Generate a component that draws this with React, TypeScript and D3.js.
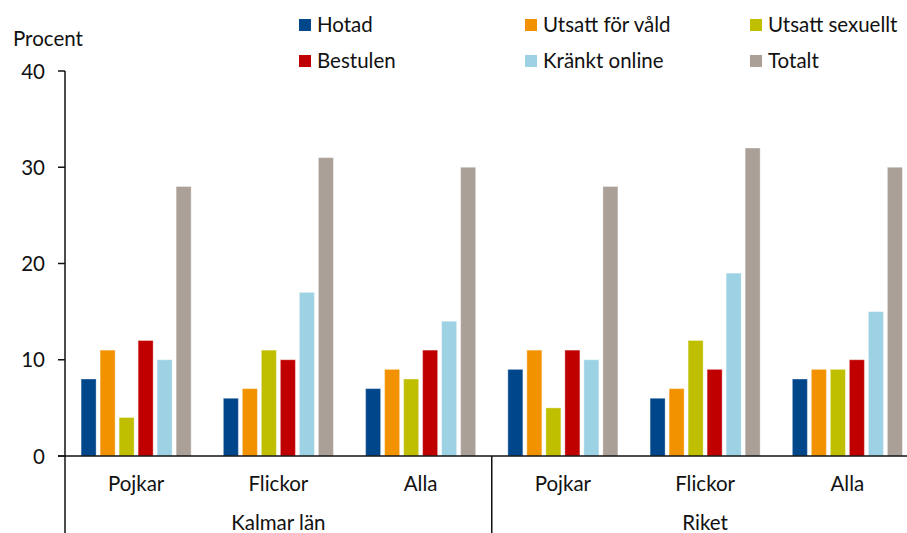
import React from "react";
import * as d3 from "d3";

const series = ["Hotad", "Utsatt för våld", "Utsatt sexuellt", "Bestulen", "Kränkt online", "Totalt"];
const colors = ["#00468B", "#F39200", "#BFBF00", "#C00000", "#9DD1E4", "#ABA097"];
const regions = ["Kalmar län", "Riket"];
const subgroups = ["Pojkar", "Flickor", "Alla"];
const groupKeys = ["Kalmar-Pojkar", "Kalmar-Flickor", "Kalmar-Alla", "Riket-Pojkar", "Riket-Flickor", "Riket-Alla"];
const kalmarPojkar = [8, 11, 4, 12, 10, 28];
const kalmarFlickor = [6, 7, 11, 10, 17, 31];
const kalmarAlla = [7, 9, 8, 11, 14, 30];
const riketPojkar = [9, 11, 5, 11, 10, 28];
const riketFlickor = [6, 7, 12, 9, 19, 32];
const riketAlla = [8, 9, 9, 10, 15, 30];
const values = [kalmarPojkar, kalmarFlickor, kalmarAlla, riketPojkar, riketFlickor, riketAlla];
const yTicks = [0, 10, 20, 30, 40];

const W = 907, H = 533;
const left = 65, right = 918.5, top = 71, bottom = 456;
const font = "Lato, 'Open Sans', sans-serif";
const fs = 20.5;

export default function App() {
  const y = d3.scaleLinear().domain([0, 40]).range([bottom, top]);
  const x0 = d3.scaleBand<string>().domain(groupKeys).range([left, right]).padding(0);
  const x1 = d3.scaleBand<string>().domain(series).range([0, x0.bandwidth()]).paddingInner(0.21).paddingOuter(0.847);
  const xr = d3.scaleBand<string>().domain(regions).range([left, right]);

  const legendCols = [299, 525, 750];
  const legendRows = [19, 55];

  return (
    <svg width={W} height={H} style={{ position: "absolute", left: 0, top: 0, background: "#fff" }} fontFamily={font}>
      <text x={13} y={46} fontSize={fs} fill="#111">Procent</text>
      {yTicks.map((t) => (
        <g key={t}>
          <line x1={58} x2={left} y1={y(t)} y2={y(t)} stroke="#111" strokeWidth={1.5} />
          <text x={45} y={y(t) + 7.5} fontSize={fs} textAnchor="end" fill="#111">{t}</text>
        </g>
      ))}
      {values.map((vals, gi) => (
        <g key={groupKeys[gi]} transform={`translate(${x0(groupKeys[gi])},0)`}>
          {vals.map((v, si) => (
            <rect key={si} x={x1(series[si])} y={y(v)} width={x1.bandwidth()} height={bottom - y(v)}
              fill={colors[si]} stroke="#fff" strokeOpacity={0.35} strokeWidth={1} />
          ))}
        </g>
      ))}
      <line x1={left} x2={left} y1={top} y2={bottom} stroke="#111" strokeWidth={1.5} />
      <line x1={58} x2={W} y1={bottom} y2={bottom} stroke="#111" strokeWidth={1.5} />
      <line x1={left} x2={left} y1={bottom} y2={H} stroke="#111" strokeWidth={1.5} />
      <line x1={xr("Riket")!} x2={xr("Riket")!} y1={bottom} y2={H} stroke="#111" strokeWidth={1.5} />
      {groupKeys.map((g, gi) => (
        <text key={g} x={x0(g)! + x0.bandwidth() / 2} y={491} fontSize={fs} textAnchor="middle" fill="#111">
          {subgroups[gi % 3]}
        </text>
      ))}
      {regions.map((r) => (
        <text key={r} x={xr(r)! + xr.bandwidth() / 2} y={530} fontSize={fs} textAnchor="middle" fill="#111">{r}</text>
      ))}
      {series.map((s, i) => {
        const cx = legendCols[i % 3];
        const cy = legendRows[Math.floor(i / 3)];
        return (
          <g key={s}>
            <rect x={cx} y={cy} width={12} height={12} fill={colors[i]} />
            <text x={cx + 18} y={cy + 13} fontSize={fs} fill="#111">{s}</text>
          </g>
        );
      })}
    </svg>
  );
}
